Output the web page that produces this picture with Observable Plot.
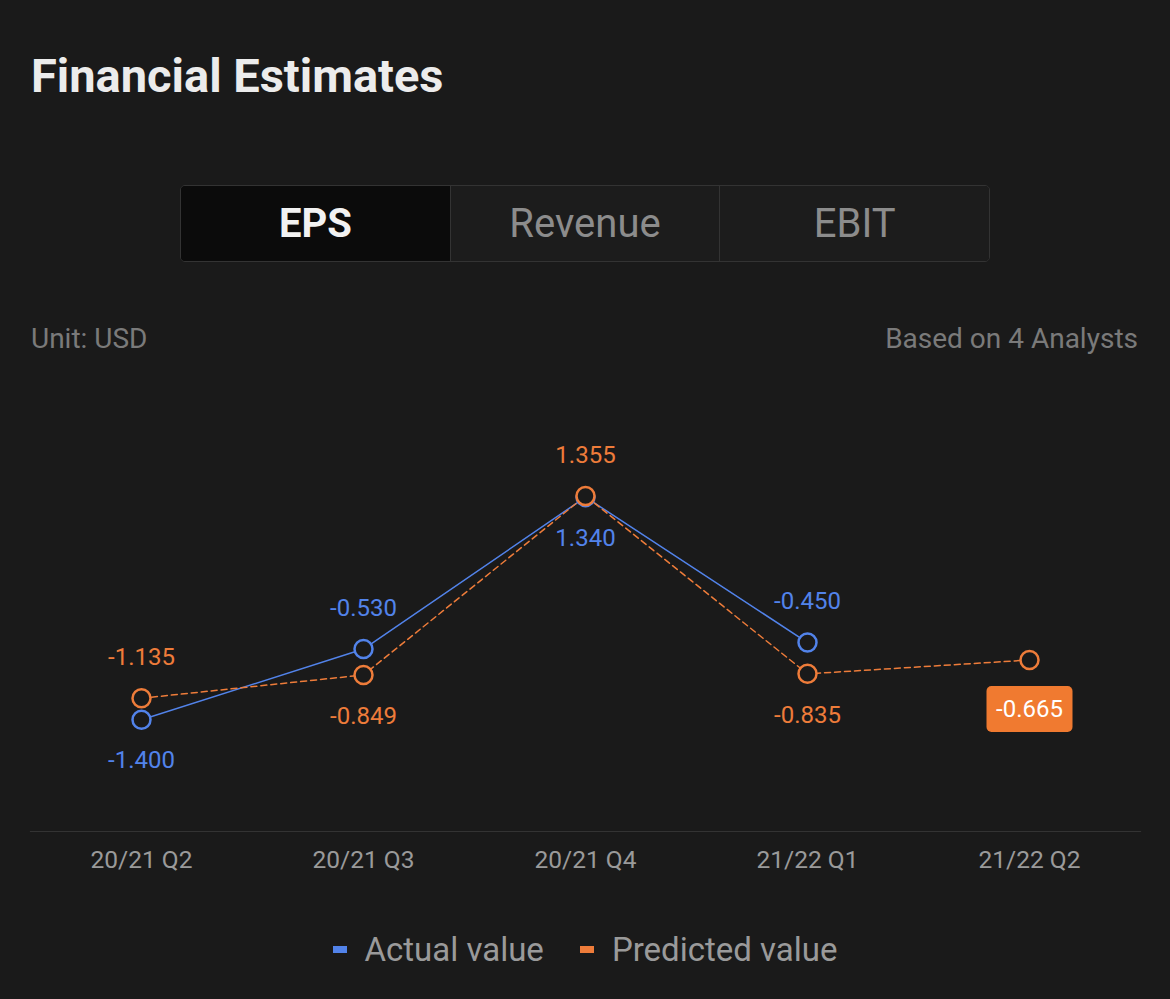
<!DOCTYPE html>
<html>
<head>
<meta charset="utf-8">
<script src="https://cdn.jsdelivr.net/npm/d3@7"></script>
<script src="https://cdn.jsdelivr.net/npm/@observablehq/plot@0.6"></script>
<style>
  html, body { margin: 0; padding: 0; background: #1a1a1a; }
  body { width: 1170px; height: 999px; position: relative; overflow: hidden; font-family: Roboto, "Noto Sans", sans-serif; }
  #title { position: absolute; left: 31px; top: 48px; font-size: 47px; font-weight: 700; color: #ececec; }
  #tabs { position: absolute; left: 180px; top: 185px; width: 810px; height: 77px; border: 1px solid #333; border-radius: 5px; display: flex; overflow: hidden; box-sizing: border-box; }
  .tab { flex: 1; display: flex; align-items: center; justify-content: center; font-size: 40px; color: #8c8c8c; background: #1c1c1c; border-left: 1px solid #333; }
  .tab.active { background: #0b0b0b; color: #f2f2f2; font-weight: 700; border-left: none; }
  .sub { position: absolute; top: 322px; font-size: 28px; color: #7a7a7a; }
  #chart { position: absolute; left: 0; top: 380px; }
  #legend { position: absolute; left: 0; width: 1170px; top: 930px; display: flex; justify-content: center; align-items: center; font-size: 33px; color: #9a9a9a; }
  .sw { display: inline-block; width: 14px; height: 7px; margin-right: 18px; }
  .item { display: flex; align-items: center; margin: 0 18px; }
</style>
</head>
<body>
<div id="title">Financial Estimates</div>
<div id="tabs">
  <div class="tab active">EPS</div>
  <div class="tab">Revenue</div>
  <div class="tab">EBIT</div>
</div>
<div class="sub" style="left:31px">Unit: USD</div>
<div class="sub" style="right:32px">Based on 4 Analysts</div>
<div id="chart"></div>
<div id="legend"></div>
<script>
const quarters = ["20/21 Q2", "20/21 Q3", "20/21 Q4", "21/22 Q1", "21/22 Q2"];
const actual = [-1.400, -0.530, 1.340, -0.450, null];
const predicted = [-1.135, -0.849, 1.355, -0.835, -0.665];
const seriesNames = ["Actual value", "Predicted value"];
const colors = {"Actual value": "#5283ea", "Predicted value": "#ee7c3a"};
const bg = "#1a1a1a";

const actualData = quarters.map((q, i) => ({q, v: actual[i], other: predicted[i]})).filter(d => d.v != null);
const predData = quarters.map((q, i) => ({q, v: predicted[i], other: actual[i]}));
const predWithActual = predData.filter(d => d.other != null);
const predOnly = predData.filter(d => d.other == null);

const fmt = v => v.toFixed(3);
const off = 41;

// rounded-rect symbol for the latest-estimate badge
const badge = {
  draw(ctx) {
    const w = 86, h = 46, r = 5, x0 = -w / 2, y0 = -h / 2;
    ctx.moveTo(x0 + r, y0);
    ctx.arcTo(x0 + w, y0, x0 + w, y0 + h, r);
    ctx.arcTo(x0 + w, y0 + h, x0, y0 + h, r);
    ctx.arcTo(x0, y0 + h, x0, y0, r);
    ctx.arcTo(x0, y0, x0 + w, y0, r);
    ctx.closePath();
  }
};

const chart = Plot.plot({
  width: 1170,
  height: 510,
  marginLeft: 30,
  marginRight: 30,
  marginTop: 0,
  marginBottom: 59,
  style: {background: "transparent", fontFamily: "Roboto, sans-serif"},
  x: {type: "point", domain: quarters, padding: 0.5, label: null},
  y: {domain: [-2, 2], range: [388, 63], axis: null},
  marks: [
    Plot.frame({anchor: "bottom", stroke: "#333", strokeWidth: 1.2}),
    Plot.axisX({tickSize: 0, tickPadding: 19, fontSize: 24.5, color: "#9a9a9a", label: null}),
    Plot.line(actualData, {x: "q", y: "v", stroke: colors["Actual value"], strokeWidth: 1.5}),
    Plot.line(predData, {x: "q", y: "v", stroke: colors["Predicted value"], strokeWidth: 1.5, strokeDasharray: "6,4"}),
    Plot.dot(actualData, {x: "q", y: "v", r: 9, stroke: colors["Actual value"], strokeWidth: 2.5, fill: bg}),
    Plot.dot(predData, {x: "q", y: "v", r: 9, stroke: colors["Predicted value"], strokeWidth: 2.5, fill: bg}),
    // labels: higher value above, lower below
    Plot.text(actualData.filter(d => d.v >= d.other), {x: "q", y: "v", text: d => fmt(d.v), dy: -off, fill: colors["Actual value"], fontSize: 24}),
    Plot.text(actualData.filter(d => d.v < d.other), {x: "q", y: "v", text: d => fmt(d.v), dy: off, fill: colors["Actual value"], fontSize: 24}),
    Plot.text(predWithActual.filter(d => d.v > d.other), {x: "q", y: "v", text: d => fmt(d.v), dy: -off, fill: colors["Predicted value"], fontSize: 24}),
    Plot.text(predWithActual.filter(d => d.v <= d.other), {x: "q", y: "v", text: d => fmt(d.v), dy: off, fill: colors["Predicted value"], fontSize: 24}),
    Plot.dot(predOnly, {x: "q", y: "v", symbol: badge, r: 5, fill: "#f07a30", dy: 49}),
    Plot.text(predOnly, {x: "q", y: "v", text: d => fmt(d.v), dy: 49, fill: "#ffffff", fontSize: 24})
  ]
});
document.getElementById("chart").appendChild(chart);

const legend = d3.select("#legend");
seriesNames.forEach(name => {
  const it = legend.append("div").attr("class", "item");
  it.append("span").attr("class", "sw").style("background", colors[name]);
  it.append("span").text(name);
});
</script>
</body>
</html>
